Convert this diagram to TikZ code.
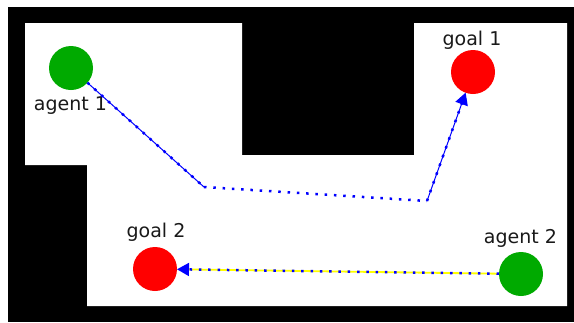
\documentclass[tikz,border=0pt]{standalone}
\usepackage{fontspec}
\setmainfont{DejaVu Sans}
\usetikzlibrary{arrows.meta}
\definecolor{agentgreen}{RGB}{0,170,0}
\definecolor{goalred}{RGB}{255,0,0}
\definecolor{pathblue}{RGB}{0,0,255}
\definecolor{pathyellow}{RGB}{255,255,0}
\tikzset{
  agent/.style={circle, fill=agentgreen, draw=none, minimum size=44pt, inner sep=0pt, outer sep=0pt},
  goal/.style={circle, fill=goalred, draw=none, minimum size=44pt, inner sep=0pt, outer sep=0pt},
  lbl/.style={font=\fontsize{19}{21}\selectfont, text=black!90, anchor=base, inner sep=0pt},
  thinline/.style={draw=pathblue, line width=1pt},
  dotline/.style={draw=pathblue, line width=2.5pt, dash pattern=on 2.5pt off 6.8pt},
  tipped/.style={-{Triangle[length=12pt,width=13pt,color=pathblue,fill=pathblue]}},
}
\begin{document}
\begin{tikzpicture}[x=1pt,y=-1pt]
  \useasboundingbox (0,0) rectangle (574,322);
  % walls
  \fill[black] (8,7) rectangle (574,322);
  % free space of the map
  \fill[white] (25,23) -- (242,23) -- (242,155) -- (414,155) -- (414,23)
    -- (567,23) -- (567,306) -- (87,306) -- (87,165) -- (25,165) -- cycle;

  % agents and goals
  \node[agent] (a1) at (71,68) {};
  \node[goal]  (g1) at (473,72) {};
  \node[goal]  (g2) at (155,269) {};
  \node[agent] (a2) at (521,274) {};

  \node[lbl] (la1) at (70.5,110) {agent 1};
  \node[lbl] (lg1) at (472,45) {goal 1};
  \node[lbl] (lg2) at (156,237) {goal 2};
  \node[lbl] (la2) at (520.5,243) {agent 2};

  % path corners of agent 1
  \coordinate (c1) at (204,187);
  \coordinate (c2) at (427,201);

  % agent 1 route
  \draw[thinline] (a1) -- (c1);
  \draw[dotline] (a1) -- (c1);
  \draw[dotline] (c1) -- (c2);
  \draw[dotline, shorten >=10pt] (c2) -- (g1);
  \draw[thinline, tipped] (c2) -- (g1);

  % agent 2 route
  \draw[draw=pathyellow, line width=1.8pt, tipped] (a2) -- (g2);
  \draw[dotline, shorten >=10pt] (a2) -- (g2);
\end{tikzpicture}
\end{document}
